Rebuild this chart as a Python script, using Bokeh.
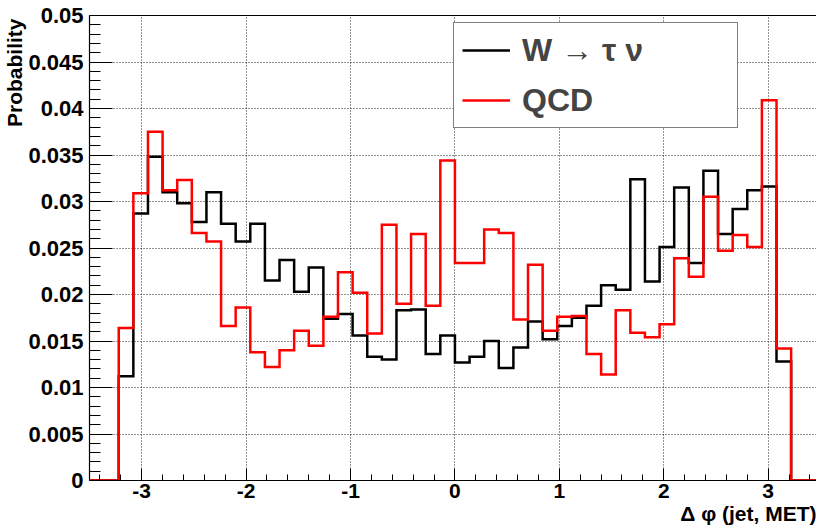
import numpy as np
from bokeh.plotting import figure
from bokeh.models import Range1d, FixedTicker, LinearAxis, Legend, LegendItem, Title
from bokeh.embed import file_html
from bokeh.resources import INLINE

# ---- data -------------------------------------------------------------
bin_lo, bin_hi, n_bins = -3.5, 3.5, 50

w_tau_nu = [0, 0, 0.0112, 0.0287, 0.0348, 0.0310, 0.0298, 0.0278, 0.0310, 0.0276,
            0.0257, 0.0276, 0.0215, 0.0237, 0.0203, 0.0229, 0.0174, 0.0179, 0.0156, 0.0133,
            0.0130, 0.0183, 0.0184, 0.0136, 0.0156, 0.0127, 0.0133, 0.0150, 0.0121, 0.0143,
            0.0171, 0.0152, 0.0166, 0.0175, 0.0188, 0.0210, 0.0205, 0.0324, 0.0214, 0.0251,
            0.0315, 0.0234, 0.0333, 0.0265, 0.0292, 0.0312, 0.0316, 0.0128, 0, 0]

qcd = [0, 0, 0.0164, 0.0309, 0.0375, 0.0312, 0.0323, 0.0266, 0.0257, 0.0166,
       0.0186, 0.0138, 0.0122, 0.0140, 0.0161, 0.0145, 0.0176, 0.0224, 0.0202, 0.0158,
       0.0275, 0.0190, 0.0265, 0.0188, 0.0344, 0.0234, 0.0234, 0.0270, 0.0266, 0.0173,
       0.0232, 0.0161, 0.0176, 0.0177, 0.0136, 0.0114, 0.0183, 0.0159, 0.0154, 0.0168,
       0.0239, 0.0219, 0.0305, 0.0247, 0.0264, 0.0251, 0.0409, 0.0142, 0, 0]

series_labels = ["W \u2192 \u03c4 \u03bd", "QCD"]

x_ticks = [-3, -2, -1, 0, 1, 2, 3]
x_tick_labels = ["-3", "-2", "-1", "0", "1", "2", "3"]
y_ticks = [0, 0.005, 0.01, 0.015, 0.02, 0.025, 0.03, 0.035, 0.04, 0.045, 0.05]
y_tick_labels = ["0", "0.005", "0.01", "0.015", "0.02", "0.025", "0.03", "0.035",
                 "0.04", "0.045", "0.05"]

x_title = "\u0394 \u03c6 (jet, MET)"
y_title = "Probability"

# ---- figure -----------------------------------------------------------
FONT = "Liberation Sans"

p = figure(width=816, height=529,
           x_range=Range1d(-3.5, 3.463), y_range=Range1d(0, 0.05),
           output_backend="svg", toolbar_location=None,
           min_border_left=89, min_border_right=0, min_border_top=15, min_border_bottom=49,
           background_fill_color="white", border_fill_color="white",
           outline_line_color=None)

edges = np.linspace(bin_lo, bin_hi, n_bins + 1)
w_vals = np.append(np.array(w_tau_nu), w_tau_nu[-1])
q_vals = np.append(np.array(qcd), qcd[-1])

r_w = p.step(x=edges, y=w_vals, mode="after", line_color="black", line_width=2.5,
             line_join="miter")
r_q = p.step(x=edges, y=q_vals, mode="after", line_color="#ff0000", line_width=2.5,
             line_join="miter")

# ---- axes -------------------------------------------------------------
xt = FixedTicker(ticks=x_ticks, minor_ticks=list(np.round(np.arange(-3.4, 3.41, 0.2), 3)))
yt = FixedTicker(ticks=y_ticks, minor_ticks=list(np.round(np.arange(0, 0.05001, 0.001), 4)))

xa = p.xaxis[0]
xa.ticker = xt
xa.major_label_overrides = {t: s for t, s in zip(x_ticks, x_tick_labels)}
ya = p.yaxis[0]
ya.ticker = yt
ya.major_label_overrides = {t: s for t, s in zip(y_ticks, y_tick_labels)}

for ax in (xa, ya):
    ax.axis_line_color = "black"
    ax.axis_line_width = 1.2
    ax.major_tick_line_color = "black"
    ax.minor_tick_line_color = "black"
    ax.major_tick_out = 0
    ax.minor_tick_out = 0
    ax.major_label_text_font = FONT
    ax.major_label_text_font_style = "bold"
    ax.major_label_text_color = "black"

xa.major_tick_in = 12
xa.minor_tick_in = 6
xa.major_label_text_font_size = "21px"
xa.major_label_standoff = 3

ya.major_tick_in = 23
ya.minor_tick_in = 11
ya.major_label_text_font_size = "22px"
ya.major_label_standoff = 6

top = LinearAxis(ticker=FixedTicker(ticks=[]), axis_line_color="black",
                 axis_line_width=1.2, major_tick_line_color=None,
                 minor_tick_line_color=None, major_label_standoff=0)
p.add_layout(top, "above")

p.xgrid.ticker = xt
p.ygrid.ticker = yt
for g in (p.xgrid[0], p.ygrid[0]):
    g.grid_line_color = "black"
    g.grid_line_dash = "1 2"
    g.grid_line_width = 1
    g.grid_line_alpha = 0.85

# ---- axis titles ------------------------------------------------------
p.add_layout(Title(text=x_title, align="right", offset=0, standoff=0,
                   vertical_align="middle",
                   text_font=FONT, text_font_style="bold", text_font_size="21px",
                   text_color="black"), "below")
p.add_layout(Title(text=y_title, align="right", offset=3, standoff=0,
                   vertical_align="bottom",
                   text_font=FONT, text_font_style="bold", text_font_size="21px",
                   text_color="black"), "left")

# ---- legend -----------------------------------------------------------
legend = Legend(items=[LegendItem(label=series_labels[0], renderers=[r_w]),
                       LegendItem(label=series_labels[1], renderers=[r_q])],
                location=(364, 352), orientation="vertical",
                border_line_color="black", border_line_width=1.5,
                background_fill_color="white", background_fill_alpha=1.0,
                padding=8, spacing=12, margin=0,
                glyph_width=48, glyph_height=38, label_height=38,
                label_standoff=12, label_width=207,
                label_text_font=FONT, label_text_font_style="bold",
                label_text_font_size="32px", label_text_baseline="middle")
p.add_layout(legend, "center")

open("out.html", "w").write(file_html(p, INLINE))
